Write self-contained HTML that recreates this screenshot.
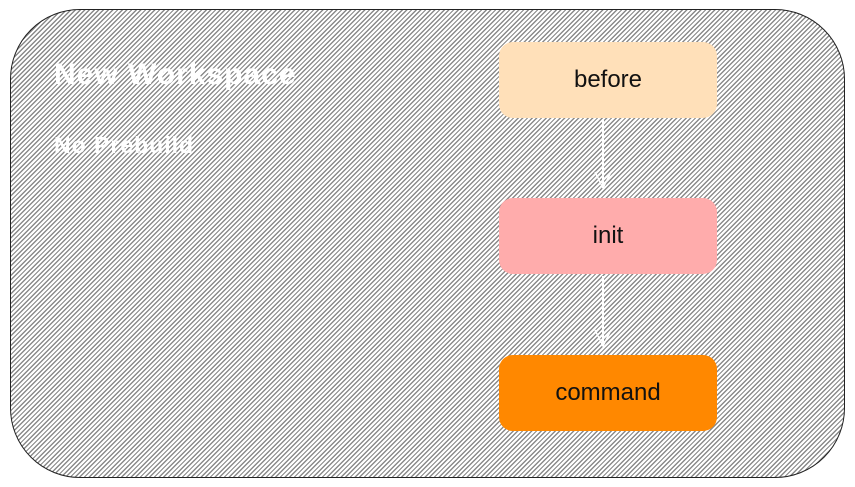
<!DOCTYPE html>
<html><head><style>
body{margin:0;width:855px;height:487px;background:#fff;position:relative;overflow:hidden;font-family:"Comic Sans MS","Liberation Sans",sans-serif}
.c{position:absolute;left:10px;top:9px;width:833px;height:467px;border:1.5px solid #222;border-radius:70px;
background:repeating-linear-gradient(135deg,#fff 0,#fff 2px,#8a8a8a 2px,#8a8a8a 3.3px);}
.b{position:absolute;left:499px;width:218px;height:76px;border-radius:14px;display:flex;align-items:center;justify-content:center;font-size:24px;color:#111}
.t{position:absolute;color:#fff;font-weight:bold}
.a{position:absolute;left:602px;width:2px;background:#fff}
</style></head><body>
<div class="c"></div>
<div class="t" style="left:54px;top:58px;font-size:30px;letter-spacing:1px">New Workspace</div>
<div class="t" style="left:54px;top:132px;font-size:23px;letter-spacing:1px">No Prebuild</div>
<div class="b" style="top:42px;background:#ffe0b9">before</div>
<div class="a" style="top:120px;height:68px"></div>
<svg style="position:absolute;left:590px;top:170px" width="26" height="20"><path d="M5 2 L13 18 L21 2" stroke="#fff" stroke-width="1.5" fill="none"/></svg>
<div class="b" style="top:198px;background:#ffacac">init</div>
<div class="a" style="top:276px;height:70px"></div>
<svg style="position:absolute;left:590px;top:328px" width="26" height="20"><path d="M5 2 L13 18 L21 2" stroke="#fff" stroke-width="1.5" fill="none"/></svg>
<div class="b" style="top:355px;background:#ff8800">command</div>
</body></html>
